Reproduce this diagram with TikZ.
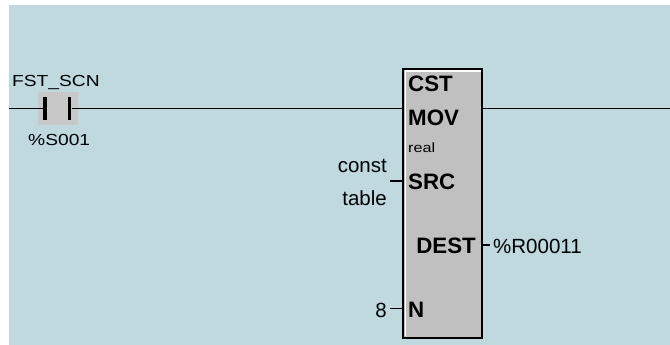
\documentclass[tikz,border=0pt]{standalone}
\usepackage{fontspec}
\setmainfont{Liberation Sans}
\newfontfamily\stretchf[FakeStretch=1.2]{Liberation Sans}
\definecolor{bg}{RGB}{191,217,223}
\definecolor{boxgrey}{RGB}{192,192,192}
\definecolor{contgrey}{RGB}{200,200,200}
\tikzset{
  rung/.style={line width=1.8pt, black},
  stub/.style={line width=1.5pt, black},
  fblock/.style={draw=black, line width=1.8pt, fill=boxgrey, inner sep=0pt},
  contbg/.style={fill=contgrey, inner sep=0pt, minimum width=40pt, minimum height=33pt},
  barnode/.style={fill=black, inner sep=0pt, minimum width=3.6pt, minimum height=23pt},
  boldtxt/.style={inner sep=0pt, font=\fontsize{22.3}{24}\bfseries\selectfont},
  bigtxt/.style={inner sep=0pt, font=\fontsize{20.5}{22}\selectfont},
  smalltxt/.style={inner sep=0pt, font=\stretchf\fontsize{16}{18}\selectfont},
  tinytxt/.style={inner sep=0pt, font=\stretchf\fontsize{13.5}{15}\selectfont},
}
\begin{document}
\begin{tikzpicture}[x=1pt,y=-1pt]
\useasboundingbox (0,0) rectangle (670,345);
\fill[white] (0,0) rectangle (670,345);
\fill[bg] (9,5) rectangle (670,345);

% contact
\node[contbg] (ct) at (57.7,108.5) {};
\node[barnode] (lbar) at (45,108.5) {};
\node[barnode] (rbar) at (69.5,108.5) {};
\node[smalltxt, anchor=base west] (fst) at (12,86.5) {FST\_SCN};
\node[smalltxt, anchor=base west] (s001) at (28,145) {\%S001};

% function block
\node[fblock, minimum width=79pt, minimum height=269pt] (box) at (442.5,203.5) {};
\draw[white, line width=1.3pt] (405.2,336) -- (405.2,70.9) -- (480.5,70.9);

% rung
\coordinate (rail) at (9,108.5);
\coordinate (rungend) at (670,108.5);
\draw[rung] (rail) -- (lbar.west);
\draw[rung] (rbar.east) -- (rbar.east -| box.west);
\draw[rung] (box.east |- rungend) -- (rungend);

% block texts
\node[boldtxt, anchor=base west] (cst) at (408,92) {CST};
\node[boldtxt, anchor=base west] (mov) at (408,125) {MOV};
\node[tinytxt, anchor=base west] (real) at (408,152) {real};
\node[boldtxt, anchor=base west] (src) at (408,189) {SRC};
\node[boldtxt, anchor=base east] (dest) at (476,253) {DEST};
\node[boldtxt, anchor=base west] (nin) at (408,317) {N};

% operands
\node[bigtxt, anchor=base east] (const) at (387,172) {const};
\node[bigtxt, anchor=base east] (table) at (387,205) {table};
\node[bigtxt, anchor=base west] (rreg) at (493,253) {\%R00011};
\node[bigtxt, anchor=base east] (eight) at (387,317) {8};

% stubs
\coordinate (srcend) at (390,181);
\coordinate (destend) at (490,245);
\coordinate (nend) at (390,308.5);
\draw[stub] (srcend) -- (srcend -| box.west);
\draw[stub] (box.east |- destend) -- (destend);
\draw[stub] (nend) -- (nend -| box.west);
\end{tikzpicture}
\end{document}
